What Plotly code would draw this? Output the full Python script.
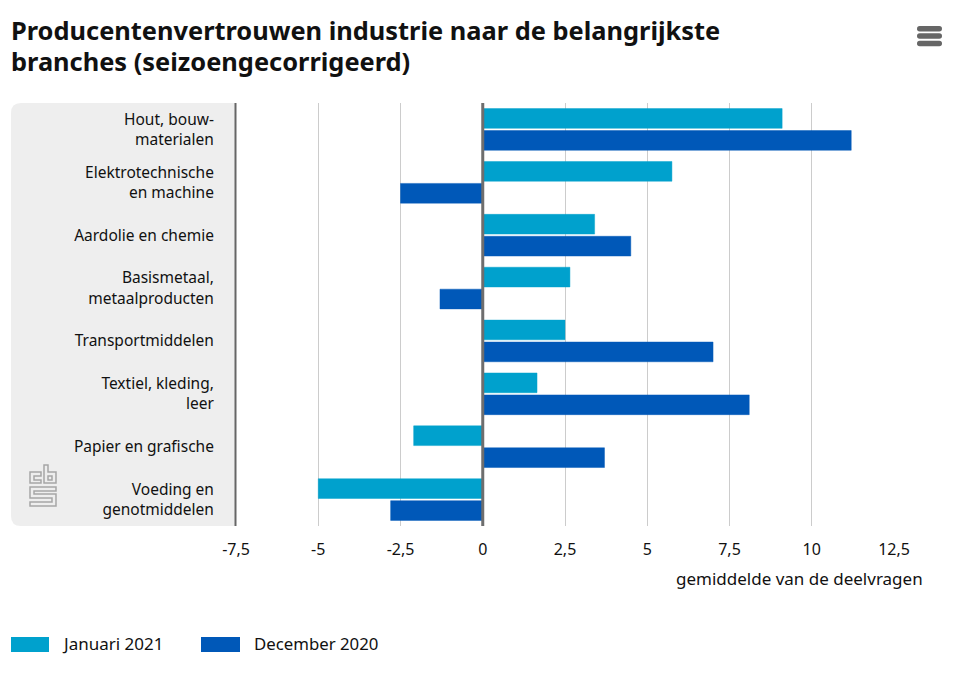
import plotly.graph_objects as go

categories = ["Hout, bouw-<br>materialen", "Elektrotechnische<br>en machine", "Aardolie en chemie",
              "Basismetaal,<br>metaalproducten", "Transportmiddelen", "Textiel, kleding,<br>leer",
              "Papier en grafische", "Voeding en<br>genotmiddelen"]
jan_2021 = [9.1, 5.75, 3.4, 2.65, 2.5, 1.65, -2.1, -5.0]
dec_2020 = [11.2, -2.5, 4.5, -1.3, 7.0, 8.1, 3.7, -2.8]
tick_vals = [-7.5, -5, -2.5, 0, 2.5, 5, 7.5, 10, 12.5]
tick_text = ["-7,5", "-5", "-2,5", "0", "2,5", "5", "7,5", "10", "12,5"]

# the page puts an 8px body margin around the figure
OFF = 8
W, H = 961 - OFF, 673 - OFF
L, R, T, B = 236, 894, 103, 526
FONT = "Noto Sans"
TXT = "#111111"
LIGHT = "#00a1cd"
DARK = "#0058b8"


# pixel position in the browser window -> paper coordinates
def px_x(x):
    return (x - L) / (R - L)


def px_y(y):
    return (B - y) / (B - T)


def pline(x0, y0, x1, y1, color, width):
    return dict(type="line", xref="paper", yref="paper", x0=px_x(x0), y0=px_y(y0), x1=px_x(x1), y1=px_y(y1),
                line=dict(color=color, width=width), layer="above")


def ppath(points, color, width):
    d = "M " + " L ".join(f"{px_x(x):.5f},{px_y(y):.5f}" for x, y in points) + " Z"
    return dict(type="path", xref="paper", yref="paper", path=d, line=dict(color=color, width=width), layer="above")


def prect(x0, y0, x1, y1, color):
    return dict(type="rect", xref="paper", yref="paper", x0=px_x(x0), y0=px_y(y0), x1=px_x(x1), y1=px_y(y1),
                fillcolor=color, line=dict(width=0), layer="above")


def pill(x0, y0, x1, y1, color):
    r = (y1 - y0) / 2
    d = (f"M {px_x(x0 + r)},{px_y(y0)} L {px_x(x1 - r)},{px_y(y0)} Q {px_x(x1)},{px_y(y0)} {px_x(x1)},{px_y(y0 + r)} "
         f"Q {px_x(x1)},{px_y(y1)} {px_x(x1 - r)},{px_y(y1)} L {px_x(x0 + r)},{px_y(y1)} "
         f"Q {px_x(x0)},{px_y(y1)} {px_x(x0)},{px_y(y0 + r)} Q {px_x(x0)},{px_y(y0)} {px_x(x0 + r)},{px_y(y0)} Z")
    return dict(type="path", xref="paper", yref="paper", path=d, fillcolor=color, line=dict(width=0), layer="above")


def label(text, x, y, anchor, size):
    return dict(text=text, xref="paper", yref="paper", x=px_x(x), y=px_y(y), xanchor=anchor, yanchor="middle",
                showarrow=False, font=dict(family=FONT, size=size, color=TXT))


fig = go.Figure()
fig.add_bar(y=categories, x=jan_2021, orientation="h", name="Januari 2021",
            marker=dict(color=LIGHT, line=dict(width=1, color="rgba(0,161,205,0.45)")))
fig.add_bar(y=categories, x=dec_2020, orientation="h", name="December 2020",
            marker=dict(color=DARK, line=dict(width=1, color="rgba(0,88,184,0.45)")))

# grey panel behind the labels, rounded on the left
r = 10
panel = (f"M {px_x(236)},{px_y(103)} L {px_x(11 + r)},{px_y(103)} Q {px_x(11)},{px_y(103)} {px_x(11)},{px_y(103 + r)} "
         f"L {px_x(11)},{px_y(526 - r)} Q {px_x(11)},{px_y(526)} {px_x(11 + r)},{px_y(526)} L {px_x(236)},{px_y(526)} Z")
shapes = [dict(type="path", xref="paper", yref="paper", path=panel, fillcolor="#eeeeee", line=dict(width=0), layer="below")]

# axis line and zero line, on top of the bars
shapes.append(pline(235.5, 103, 235.5, 526, "#666666", 2))
shapes.append(dict(type="line", xref="x", yref="paper", x0=0, x1=0, y0=0, y1=1, line=dict(color="#6e6e6e", width=3), layer="above"))
# menu icon
for y in [28.7, 36, 43.5]:
    shapes.append(pill(917, y - 2.7, 942, y + 2.7, "#666666"))
# legend swatches
shapes.append(prect(11, 637, 49, 652, LIGHT))
shapes.append(prect(201, 637, 240, 652, DARK))
# cbs logo
logo = "#a6a6a6"
shapes.append(ppath([(41, 472), (30, 472), (30, 483), (41, 483), (41, 480), (34, 480), (34, 476), (41, 476)], logo, 1.5))
shapes.append(ppath([(44, 465), (48, 465), (48, 472), (56, 472), (56, 483), (44, 483)], logo, 1.5))
shapes.append(ppath([(48, 476), (52, 476), (52, 480), (48, 480)], logo, 1.5))
shapes.append(ppath([(30, 487), (56, 487), (56, 491), (34, 491), (34, 494), (56, 494), (56, 506), (30, 506),
                     (30, 502), (52, 502), (52, 498), (30, 498)], logo, 1.5))

annotations = [
    label("<b>Producentenvertrouwen industrie naar de belangrijkste</b>", 9, 30, "left", 25.4),
    label("<b>branches (seizoengecorrigeerd)</b>", 9, 61, "left", 25.4),
    label("gemiddelde van de deelvragen", 925, 578, "right", 17),
    label("Januari 2021", 60, 643, "left", 17),
    label("December 2020", 252, 643, "left", 16.8),
]

fig.update_layout(
    width=W, height=H, margin=dict(l=L - OFF, r=W + OFF - R, t=T - OFF, b=H + OFF - B, autoexpand=False),
    paper_bgcolor="white", plot_bgcolor="white", barmode="group", bargap=0.17, bargroupgap=0.1,
    showlegend=False, shapes=shapes, annotations=annotations, font=dict(family=FONT, size=15, color=TXT),
)
fig.update_xaxes(range=[-7.5, 12.5], tickvals=tick_vals, ticktext=tick_text, showgrid=True, gridcolor="#cccccc", gridwidth=1,
                 zeroline=False, ticks="outside", ticklen=9, tickcolor="rgba(0,0,0,0)", tickfont=dict(size=16, color=TXT))
fig.update_yaxes(autorange="reversed", ticks="outside", ticklen=18, tickcolor="rgba(0,0,0,0)", showgrid=False,
                 tickfont=dict(size=15.5, color=TXT))

fig.write_html("out.html", config=dict(displayModeBar=False))
